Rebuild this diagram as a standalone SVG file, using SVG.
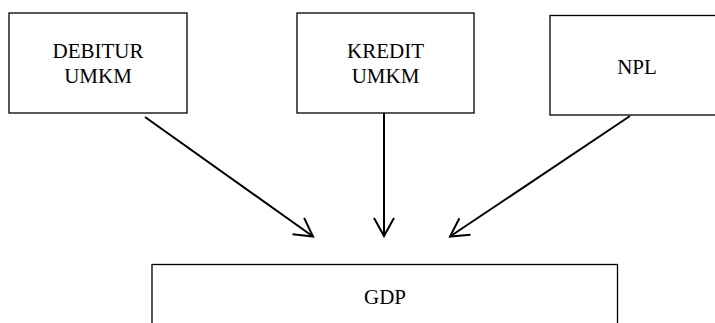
<svg xmlns="http://www.w3.org/2000/svg" width="715" height="323" viewBox="0 0 715 323">
<style>
.box{fill:#fff;stroke:#000;stroke-width:1.3}
.lbl{font-family:"Liberation Serif","Times New Roman",serif;font-size:21px;fill:#000;text-anchor:middle}
.edge{stroke:#000;stroke-width:2;fill:none;marker-end:url(#arr)}
</style>
<defs>
<marker id="arr" markerUnits="userSpaceOnUse" viewBox="-21 -12 23 24" refX="0" refY="0" markerWidth="23" markerHeight="24" orient="auto">
<path d="M-18,-10 L0,0 L-18,10" fill="none" stroke="#000" stroke-width="2" stroke-linejoin="miter"/>
</marker>
</defs>
<rect width="715" height="323" fill="#fff"/>
<g id="debitur">
<rect class="box" x="9" y="13" width="178" height="100"/>
<text class="lbl" x="98" y="58">DEBITUR</text>
<text class="lbl" x="98" y="83">UMKM</text>
</g>
<g id="kredit">
<rect class="box" x="297" y="13" width="177" height="100"/>
<text class="lbl" x="385.5" y="58">KREDIT</text>
<text class="lbl" x="385.5" y="83">UMKM</text>
</g>
<g id="npl">
<rect class="box" x="550" y="15.5" width="174" height="99.5"/>
<text class="lbl" x="637" y="74">NPL</text>
</g>
<g id="gdp">
<rect class="box" x="152" y="264.5" width="465.5" height="70"/>
<text class="lbl" x="385" y="304">GDP</text>
</g>
<g id="connectors">
<line class="edge" x1="145" y1="117" x2="313" y2="236.5"/>
<line class="edge" x1="384" y1="113" x2="384" y2="236"/>
<line class="edge" x1="630" y1="116" x2="450" y2="236.5"/>
</g>
</svg>
